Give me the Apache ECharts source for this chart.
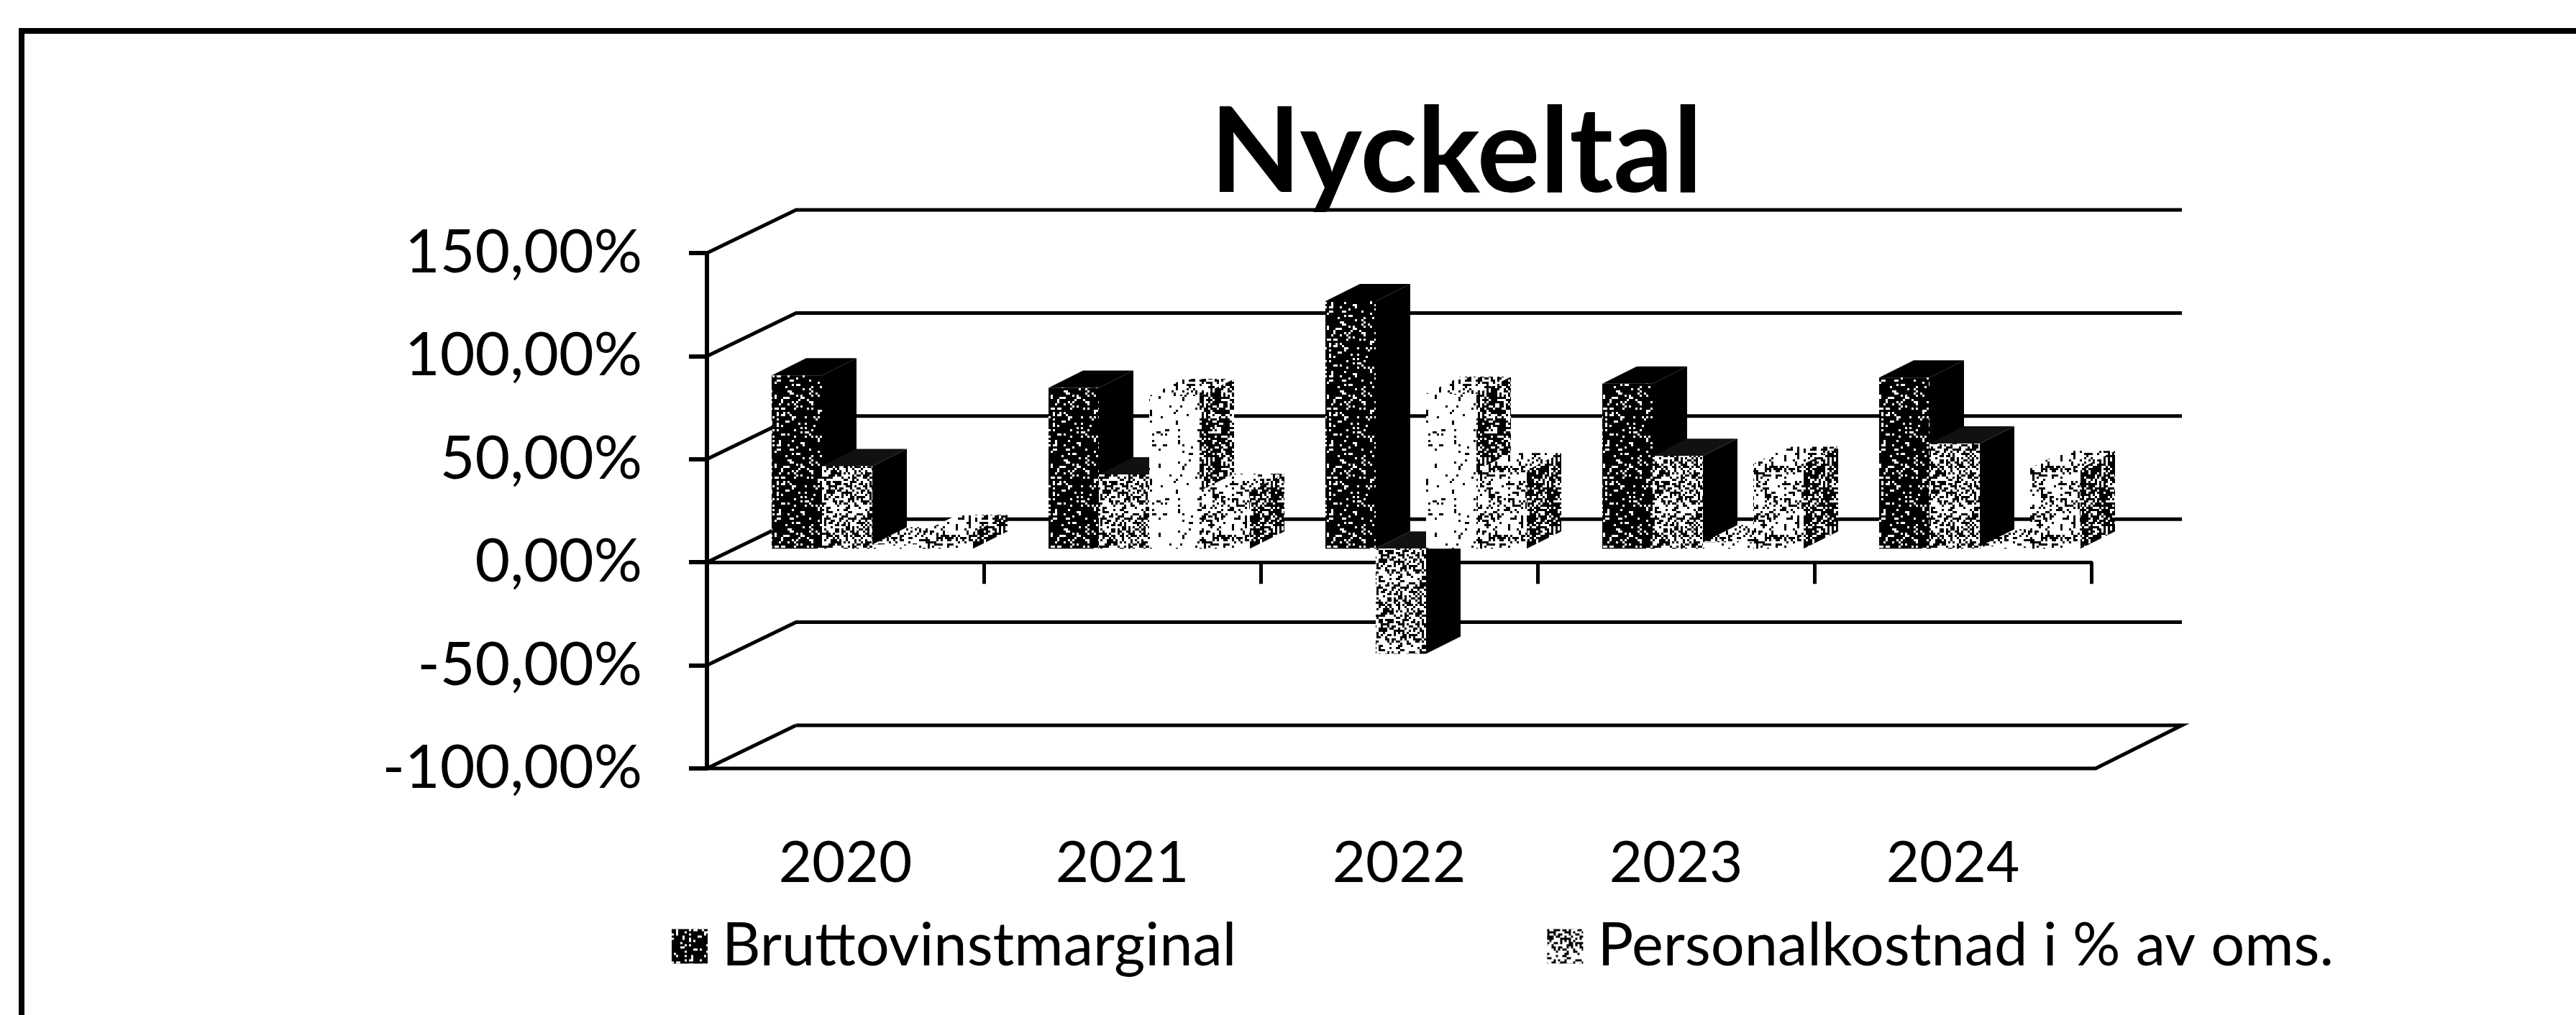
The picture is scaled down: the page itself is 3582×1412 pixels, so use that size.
<!DOCTYPE html>
<html>
<head>
<meta charset="utf-8">
<title>Nyckeltal</title>
<script src="https://cdn.jsdelivr.net/npm/echarts@6/dist/echarts.min.js"></script>
<style>
  html, body { margin: 0; padding: 0; background: #fff; }
  #main { width: 3582px; height: 1412px; }
</style>
</head>
<body>
<div id="main"></div>
<script>
var years = ["2020", "2021", "2022", "2023", "2024"];
var valueTicks = [-100, -50, 0, 50, 100, 150];
var brutto = [84, 78, 120, 80, 83];
var personal = [40, 36, -51, 45, 51];
var third = [2, 74, 75, 3, 1];
var fourth = [8, 28, 38, 41, 39];

// scan-like stipple, seeded so every render gives the same texture
function speckle(bg, fg, density, seed) {
  var size = 96, cell = 3;
  var c = document.createElement("canvas");
  c.width = c.height = size;
  var ctx = c.getContext("2d");
  ctx.fillStyle = bg;
  ctx.fillRect(0, 0, size, size);
  ctx.fillStyle = fg;
  var s = seed;
  for (var y = 0; y < size; y += cell) {
    for (var x = 0; x < size; x += cell) {
      s = (s * 1103515245 + 12345) & 0x7fffffff;
      if ((s >> 8) % 1000 < density * 1000) ctx.fillRect(x, y, cell, cell);
    }
  }
  return { image: c, repeat: "repeat" };
}

var darkFront = speckle("#000", "#fff", 0.14, 11);
var midFront = speckle("#fff", "#000", 0.42, 23);
var paleFront = speckle("#fff", "#000", 0.05, 37);
var lightFront = speckle("#fff", "#000", 0.3, 41);
var midSide = speckle("#000", "#fff", 0.32, 53);

var looks = [
  { front: darkFront, side: "#000", top: "#000" },
  { front: midFront, side: "#000", top: "#111" },
  { front: paleFront, side: midSide, top: lightFront },
  { front: lightFront, side: midSide, top: lightFront },
];

var barW = 70, depthX = 48, depthY = -24, groupLeft = 90, floorY = -19;

function barItem(slot) {
  return function (params, api) {
    var mid = api.coord([api.value(0), 0]);
    var top = api.coord([api.value(0), api.value(1)]);
    var band = api.size([1, 0])[0];
    var x0 = mid[0] - band / 2 + groupLeft + slot * barW;
    var x1 = x0 + barW;
    var y0 = mid[1] + floorY;
    var y1 = top[1] + floorY;
    var look = looks[slot];
    var hi = Math.min(y0, y1);
    return {
      type: "group",
      children: [
        {
          type: "polygon",
          shape: { points: [[x1, y0], [x1 + depthX, y0 + depthY], [x1 + depthX, y1 + depthY], [x1, y1]] },
          style: { fill: look.side },
        },
        {
          type: "polygon",
          shape: { points: [[x0, hi], [x1, hi], [x1 + depthX, hi + depthY], [x0 + depthX, hi + depthY]] },
          style: { fill: look.top },
        },
        {
          type: "rect",
          shape: { x: x0, y: hi, width: barW, height: Math.abs(y1 - y0) },
          style: { fill: look.front },
        },
      ],
    };
  };
}

function wallItem(params, api) {
  var v = api.value(1);
  var a = api.coord([0, v]);
  var band = api.size([1, 0])[0];
  var left = a[0] - band / 2;
  var right = api.coord([years.length - 1, v])[0] + band / 2;
  var pts = [[left, a[1]], [left + 124, a[1] - 60], [right + 126, a[1] - 60]];
  if (v === valueTicks[0]) {
    pts = [[left + 124, a[1] - 60], [left, a[1]], [right + 6, a[1]], [right + 126, a[1] - 60], [left + 124, a[1] - 60]];
  }
  return {
    type: "polyline",
    shape: { points: pts },
    style: { fill: "none", stroke: "#000", lineWidth: 5 },
  };
}

function barSeries(name, data, slot) {
  return {
    name: name,
    type: "custom",
    renderItem: barItem(slot),
    data: data.map(function (v, i) { return [i, v]; }),
    clip: false,
    z: 3 + slot,
    itemStyle: { color: looks[slot].front },
  };
}

var myChart = echarts.init(document.getElementById("main"));
myChart.setOption({
  animation: false,
  backgroundColor: "#fff",
  textStyle: { fontFamily: "Lato", color: "#000" },
  title: {
    text: "Nyckeltal",
    left: 2020,
    top: 127,
    textAlign: "center",
    textStyle: { fontFamily: "Lato", fontSize: 164, fontWeight: "bold", color: "#000" },
  },
  legend: {
    left: 929,
    top: 1270,
    selectedMode: false,
    icon: "rect",
    itemWidth: 50,
    itemHeight: 48,
    itemGap: 432,
    textStyle: { fontFamily: "Lato", fontSize: 83, color: "#000", padding: [0, 0, 0, 15] },
    data: [
      { name: "Bruttovinstmarginal", itemStyle: { color: darkFront } },
      { name: "Personalkostnad i % av oms.", itemStyle: { color: midFront } },
    ],
  },
  grid: { left: 983, right: 674, top: 352, bottom: 343, outerBoundsMode: "none" },
  xAxis: [
    {
      // the zero line with its ticks
      type: "category",
      data: years,
      axisLine: { show: true, onZero: true, lineStyle: { color: "#000", width: 5 } },
      axisTick: { show: true, length: 30, lineStyle: { color: "#000", width: 5 } },
      axisLabel: { show: false },
    },
    {
      // year labels sit under the floor
      type: "category",
      position: "bottom",
      data: years,
      axisLine: { show: false, onZero: false },
      axisTick: { show: false },
      axisLabel: { show: true, margin: 92, fontSize: 80, color: "#000", fontFamily: "Lato" },
    },
  ],
  yAxis: {
    type: "value",
    min: -100,
    max: 150,
    interval: 50,
    splitLine: { show: false },
    axisLine: { show: true, onZero: false, lineStyle: { color: "#000", width: 6 } },
    axisTick: { show: true, length: 25, lineStyle: { color: "#000", width: 6 } },
    axisLabel: {
      margin: 90,
      fontSize: 84,
      color: "#000",
      fontFamily: "Lato",
      padding: [18, 0, 0, 0],
      formatter: function (v) { return v.toFixed(2).replace(".", ",") + "%"; },
    },
  },
  graphic: [
    {
      type: "polyline",
      shape: { points: [[30, 1412], [30, 43], [3582, 43]] },
      style: { fill: "none", stroke: "#000", lineWidth: 8 },
    },
  ],
  series: [
    {
      name: "wall",
      type: "custom",
      renderItem: wallItem,
      data: valueTicks.map(function (v) { return [0, v]; }),
      clip: false,
      z: 1,
      silent: true,
    },
    barSeries("Bruttovinstmarginal", brutto, 0),
    barSeries("Personalkostnad i % av oms.", personal, 1),
    barSeries("Serie 3", third, 2),
    barSeries("Serie 4", fourth, 3),
  ],
});
</script>
</body>
</html>
